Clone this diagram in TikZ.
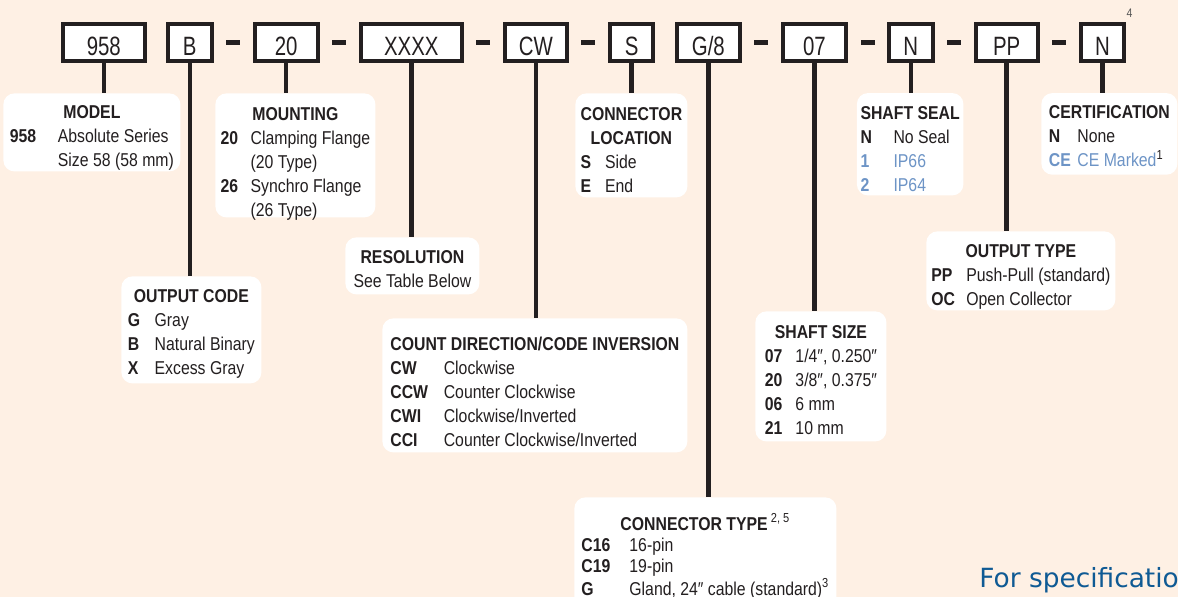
\documentclass[tikz,border=0pt]{standalone}
\usepackage{fontspec}
\setmainfont[FakeStretch=0.85]{Liberation Sans}
\newfontfamily\codefont[FakeStretch=0.77]{Liberation Sans}
\newfontfamily\notefont{DejaVu Sans}
\usetikzlibrary{positioning,calc}
\definecolor{cream}{HTML}{FEF0E4}
\definecolor{ink}{HTML}{231F20}
\definecolor{steel}{HTML}{6D94C6}
\definecolor{specblue}{HTML}{0F5A94}
\definecolor{notegray}{HTML}{555555}
\tikzset{
  codebox/.style={
    rectangle, draw=ink, line width=2pt, fill=white,
    minimum width=#1, minimum height=18.5pt, inner sep=0pt,
    text height=12.5pt, text depth=0pt, text=ink,
    font=\codefont\fontsize{13.25}{15}\selectfont
  },
  codebox/.default=21.75pt,
  dashmark/.style={
    rectangle, fill=ink, minimum width=7pt, minimum height=2.5pt, inner sep=0pt
  },
  descbox/.style={
    rectangle, rounded corners=5.5pt, fill=white, inner sep=0pt,
    anchor=north west, text=ink, font=\fontsize{9.3}{12}\selectfont
  },
  leader/.style={draw=ink, line width=2.25pt},
  footmark/.style={font=\fontsize{6.2}{7}\selectfont, text=notegray, inner sep=0pt},
}
\begin{document}
\begin{tikzpicture}[x=0.5pt, y=-0.5pt]
  \useasboundingbox (0,0) rectangle (1178,597);
  \clip (0,0) rectangle (1178,597);
  \fill[cream] (0,0) rectangle (1178,597);

  % Part number row
  \node[codebox=40.85pt] (c958) at (103.8,42.6) {958};
  \node[codebox, right=9.7pt of c958] (cB) {B};
  \node[codebox=31.5pt, right=19.55pt of cB] (c20) {20};
  \node[codebox=50.5pt, right=19.55pt of c20] (cXXXX) {XXXX};
  \node[codebox=31pt, right=19.55pt of cXXXX] (cCW) {CW};
  \node[codebox, right=19.55pt of cCW] (cS) {S};
  \node[codebox=31.5pt, right=9.7pt of cS] (cG8) {G/8};
  \node[codebox=31.5pt, right=19.55pt of cG8] (c07) {07};
  \node[codebox, right=19.55pt of c07] (cNa) {N};
  \node[codebox=31pt, right=19.55pt of cNa] (cPP) {PP};
  \node[codebox, right=19.55pt of cPP] (cNb) {N};
  \node[footmark, anchor=south west, yshift=2pt] (fn4) at (cNb.north east) {4};

  \foreach \a/\b [count=\i] in {cB/c20, c20/cXXXX, cXXXX/cCW, cCW/cS,
                                cG8/c07, c07/cNa, cNa/cPP, cPP/cNb} {
    \node[dashmark] (dash\i) at ($(\a.east)!0.5!(\b.west)$) {};
  }

  % Option boxes
  \node[descbox, minimum width=88.5pt, text height=12.65pt, text depth=26.35pt] (model) at (3,93) {%
    \begin{tabular}[t]{@{}p{24pt}@{}l@{}}
      \multicolumn{2}{@{}c@{}}{\bfseries MODEL}\\
      \bfseries 958 & Absolute Series\\
                    & Size 58 (58 mm)
    \end{tabular}};

  \node[descbox, minimum width=80pt, text height=13.35pt, text depth=48.65pt] (mounting) at (215,93) {%
    \begin{tabular}[t]{@{}p{15pt}@{}l@{}}
      \multicolumn{2}{@{}c@{}}{\bfseries MOUNTING}\\
      \bfseries 20 & Clamping Flange\\
                   & (20 Type)\\
      \bfseries 26 & Synchro Flange\\
                   & (26 Type)
    \end{tabular}};

  \node[descbox, minimum width=70pt, text height=12.85pt, text depth=40.65pt] (outcode) at (121,276) {%
    \begin{tabular}[t]{@{}p{13.35pt}@{}l@{}}
      \multicolumn{2}{@{}c@{}}{\bfseries OUTPUT CODE}\\
      \bfseries G & Gray\\
      \bfseries B & Natural Binary\\
      \bfseries X & Excess Gray
    \end{tabular}};

  \node[descbox, minimum width=67pt, text height=12.85pt, text depth=15.65pt] (resolution) at (345,237) {%
    \begin{tabular}[t]{@{}c@{}}
      \bfseries RESOLUTION\\
      See Table Below
    \end{tabular}};

  \node[descbox, minimum width=152.5pt, text height=15.85pt, text depth=51.15pt] (countdir) at (382,318) {%
    \begin{tabular}[t]{@{}p{26.7pt}@{}l@{}}
      \multicolumn{2}{@{}c@{}}{\bfseries COUNT DIRECTION/CODE INVERSION}\\
      \bfseries CW  & Clockwise\\
      \bfseries CCW & Counter Clockwise\\
      \bfseries CWI & Clockwise/Inverted\\
      \bfseries CCI & Counter Clockwise/Inverted
    \end{tabular}};

  \node[descbox, minimum width=56pt, text height=13.5pt, text depth=38.5pt] (connloc) at (575,93) {%
    \begin{tabular}[t]{@{}p{12.2pt}@{}l@{}}
      \multicolumn{2}{@{}c@{}}{\bfseries CONNECTOR}\\
      \multicolumn{2}{@{}c@{}}{\bfseries LOCATION}\\
      \bfseries S & Side\\
      \bfseries E & End
    \end{tabular}};

  \node[descbox, minimum width=131pt, text height=16.35pt, text depth=40pt] (conntype) at (574,497) {%
    \renewcommand\arraystretch{0.88}%
    \begin{tabular}[t]{@{}p{24pt}@{}l@{}}
      \multicolumn{2}{@{}c@{}}{\bfseries CONNECTOR TYPE\,\textsuperscript{\mdseries 2, 5}}\\
      \bfseries C16 & 16-pin\\
      \bfseries C19 & 19-pin\\
      \bfseries G   & Gland, 24″ cable (standard)\textsuperscript{3}
    \end{tabular}};

  \node[descbox, minimum width=65.5pt, text height=13.65pt, text depth=51.35pt] (shaftsize) at (755,311) {%
    \begin{tabular}[t]{@{}p{15.35pt}@{}l@{}}
      \multicolumn{2}{@{}c@{}}{\bfseries SHAFT SIZE}\\
      \bfseries 07 & 1/4″, 0.250″\\
      \bfseries 20 & 3/8″, 0.375″\\
      \bfseries 06 & 6 mm\\
      \bfseries 21 & 10 mm
    \end{tabular}};

  \node[descbox, minimum width=53.25pt, text height=13.15pt, text depth=38pt] (shaftseal) at (856.5,92.7) {%
    \begin{tabular}[t]{@{}p{16.5pt}@{}l@{}}
      \multicolumn{2}{@{}c@{}}{\bfseries SHAFT SEAL}\\
      \bfseries N & No Seal\\
      \textcolor{steel}{\bfseries 1} & \textcolor{steel}{IP66}\\
      \textcolor{steel}{\bfseries 2} & \textcolor{steel}{IP64}
    \end{tabular}};

  \node[descbox, minimum width=94.5pt, text height=13.15pt, text depth=26.35pt] (outtype) at (926,231) {%
    \begin{tabular}[t]{@{}p{17.5pt}@{}l@{}}
      \multicolumn{2}{@{}c@{}}{\bfseries OUTPUT TYPE}\\
      \bfseries PP & Push-Pull (standard)\\
      \bfseries OC & Open Collector
    \end{tabular}};

  \node[descbox, minimum width=68pt, text height=12.8pt, text depth=28pt] (cert) at (1041,92.7) {%
    \begin{tabular}[t]{@{}p{14.25pt}@{}l@{}}
      \multicolumn{2}{@{}c@{}}{\bfseries CERTIFICATION}\\
      \bfseries N & None\\
      \textcolor{steel}{\bfseries CE} & \textcolor{steel}{CE Marked}\textsuperscript{1}
    \end{tabular}};

  % Leaders from code to option box
  \foreach \c/\d in {c958/model, cB/outcode, c20/mounting, cXXXX/resolution,
                     cCW/countdir, cS/connloc, cG8/conntype, c07/shaftsize,
                     cNa/shaftseal, cPP/outtype, cNb/cert} {
    \draw[leader] (\c.south) -- (\c.south |- \d.north);
  }

  \node[anchor=base west, inner sep=0pt, text=specblue,
        font=\notefont\fontsize{13.2}{15}\selectfont] (specnote) at (979,588) {For specifications};
\end{tikzpicture}
\end{document}
